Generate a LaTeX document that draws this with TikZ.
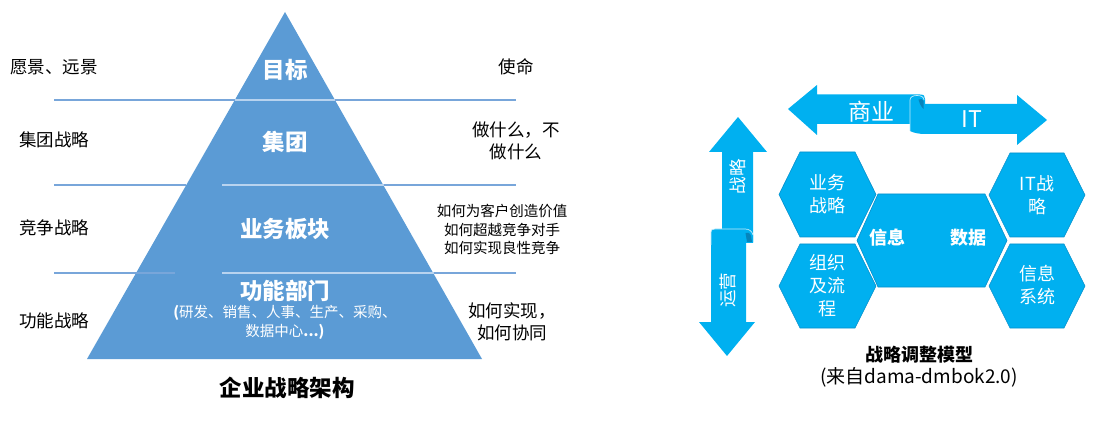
\documentclass[tikz,border=0pt]{standalone}
\usepackage{fontspec}
\setmainfont{Noto Sans CJK SC}
\definecolor{pyr}{HTML}{5B9BD5}
\definecolor{cy}{HTML}{00B0F0}
\definecolor{cyd}{HTML}{0584BC}
\definecolor{hexedge}{HTML}{0590CC}
\definecolor{ln}{HTML}{78A6DA}
\definecolor{lnin}{HTML}{B8D3EF}
\tikzset{
  lbl/.style={font=\fontsize{17.5}{21}\selectfont, inner sep=0pt, text=black},
  rlbl/.style={font=\fontsize{17.5}{22}\selectfont, inner sep=0pt, text=black, align=center},
  slbl/.style={font=\fontsize{14.5}{18.5}\selectfont, inner sep=0pt, text=black, align=center},
  ptxt/.style={font=\fontsize{22.5}{26}\selectfont\bfseries, inner sep=0pt, text=white},
  psub/.style={font=\fontsize{14.5}{19}\selectfont, inner sep=0pt, text=white, align=center},
  ttl/.style={font=\fontsize{22.5}{26}\selectfont\bfseries, inner sep=0pt, text=black},
  sepline/.style={draw=ln, line width=1.1pt},
  sepin/.style={draw=lnin, line width=1.1pt},
  hexbox/.style={fill=cy, draw=hexedge, line width=0.6pt},
  arrowbox/.style={fill=cy, draw=none},
  curledge/.style={draw=white!75!cy, line width=0.7pt},
  htxt/.style={font=\fontsize{18}{23}\selectfont, inner sep=0pt, text=white, align=center},
  hbold/.style={font=\fontsize{18}{23}\selectfont\bfseries, inner sep=0pt, text=white},
  atxt/.style={font=\fontsize{23}{26}\selectfont, inner sep=0pt, text=white},
  vtxt/.style={font=\fontsize{17.5}{20}\selectfont, inner sep=0pt, text=white, rotate=90},
  captxt/.style={font=\fontsize{18}{22}\selectfont\bfseries, inner sep=0pt, text=black},
  capsub/.style={font=\fontsize{19}{22}\selectfont, inner sep=0pt, text=black},
}
\begin{document}
\begin{tikzpicture}[x=1pt,y=-1pt]
\path[use as bounding box] (0,0) rectangle (1111,422);

% ---------- pyramid ----------
\coordinate (apex) at (285,12);
\coordinate (bl) at (87,359);
\coordinate (br) at (482,359);
\fill[pyr] (apex) -- (br) -- (bl) -- cycle;

% separator lines
\draw[sepline] (54,100) -- (234.8,100);
\draw[sepin]   (234.8,100) -- (335.2,100);
\draw[sepline] (335.2,100) -- (516,100);
\draw[sepline] (54,185) -- (186.3,185);
\draw[sepin]   (222,185) -- (383.7,185);
\draw[sepline] (383.7,185) -- (516,185);
\draw[sepline] (54,273) -- (175,273);
\draw[sepin]   (222,273) -- (433.9,273);
\draw[sepline] (433.9,273) -- (516,273);

% pyramid texts
\node[ptxt] (p1) at (285,70) {目标};
\node[ptxt] (p2) at (285,142) {集团};
\node[ptxt] (p3) at (285,229) {业务板块};
\node[ptxt] (p4) at (285,291) {功能部门};
\node[psub] (p5) at (285,313) {{\bfseries (}研发、销售、人事、生产、采购、};
\node[psub] (p6) at (285,332) {数据中心{\bfseries ...)}};
\node[ttl] (t1) at (287,388) {企业战略架构};

% left labels
\node[lbl, anchor=west] (l1) at (10,67) {愿景、远景};
\node[lbl, anchor=west] (l2) at (19,140) {集团战略};
\node[lbl, anchor=west] (l3) at (19,228) {竞争战略};
\node[lbl, anchor=west] (l4) at (19,321) {功能战略};

% right labels
\node[rlbl] (r1) at (516,67) {使命};
\node[rlbl] (r2) at (516,141) {做什么，不\\做什么};
\node[slbl] (r3) at (502,229.5) {如何为客户创造价值\\如何超越竞争对手\\如何实现良性竞争};
\node[rlbl] (r4) at (512,322) {如何实现，\\如何协同};

% ---------- right model ----------
% horizontal arrows
\fill[arrowbox] (788,109) -- (817,85) -- (817,94.5) -- (920,94.5)
  .. controls (924,94.5) and (925,96) .. (925,99) -- (925,124) -- (817,124) -- (817,135) -- cycle;
\fill[arrowbox] (910,131) -- (910,100) .. controls (910,97) and (913,95.5) .. (917,95.5)
  .. controls (921,95.5) and (924,97) .. (924,100) -- (924,104) -- (1017,104) -- (1017,95)
  -- (1047,120) -- (1017,145) -- (1017,134) -- (925,134) .. controls (919,134) and (914,133) .. (910,131) -- cycle;
\fill[cyd] (918.5,99.5) .. controls (920.5,98.5) and (923.5,99) .. (923.5,101) -- (923.5,109)
  .. controls (921.5,107) and (919.5,104) .. (918.5,99.5) -- cycle;
\draw[curledge] (910,131) -- (910,100) .. controls (910,97) and (913,95.5) .. (917,95.5)
  .. controls (921,95.5) and (924,97) .. (924,100);
\node[atxt] (a1) at (871,112) {商业};
\node[atxt] (a2) at (972,119) {IT};

% vertical arrows
\fill[arrowbox] (738,117) -- (767,152) -- (753,152) -- (753,243) -- (722,243) -- (722,152) -- (709,152) -- cycle;
\fill[arrowbox] (711,322) -- (711,232) .. controls (711,230) and (712,229) .. (715,229) -- (745,229)
  .. controls (749,229) and (752,231) .. (753,235) -- (753,242) -- (746,242) -- (746,322) -- (755,322)
  -- (727,356) -- (699,322) -- cycle;
\fill[cyd] (745.5,233) .. controls (748,232) and (750,233) .. (751,236) -- (752,242) -- (747,242)
  .. controls (746.5,239) and (746,236) .. (745.5,233) -- cycle;
\draw[curledge] (711,245) -- (711,232) .. controls (711,230) and (712,229) .. (715,229) -- (745,229)
  .. controls (749,229) and (752,231) .. (753,235);
\node[vtxt] (v1) at (738,177) {战略};
\node[vtxt] (v2) at (728,290) {运营};

% hexagons
\path[hexbox] (779,194.5) -- (800,152) -- (855,152) -- (876,194.5) -- (855,237) -- (800,237) -- cycle;
\path[hexbox] (779,286) -- (800,244) -- (855,244) -- (876,286) -- (855,328) -- (800,328) -- cycle;
\path[hexbox] (989,195) -- (1010,153) -- (1064,153) -- (1085,195) -- (1064,237) -- (1010,237) -- cycle;
\path[hexbox] (989,286) -- (1010,244) -- (1064,244) -- (1085,286) -- (1064,328) -- (1010,328) -- cycle;
\path[hexbox] (857,240.5) -- (878,194) -- (985,194) -- (1007,240.5) -- (985,287) -- (878,287) -- cycle;

\node[htxt] (h1) at (827,194.5) {业务\\战略};
\node[htxt] (h2) at (827,285.5) {组织\\及流\\程};
\node[htxt] (h3) at (1037,195) {IT战\\略};
\node[htxt] (h4) at (1037,285.5) {信息\\系统};
\node[hbold] (h5) at (887,238) {信息};
\node[hbold] (h6) at (968,238) {数据};

\node[captxt] (c1) at (919,355) {战略调整模型};
\node[capsub] (c2) at (919,377) {(来自dama-dmbok2.0)};
\end{tikzpicture}
\end{document}
